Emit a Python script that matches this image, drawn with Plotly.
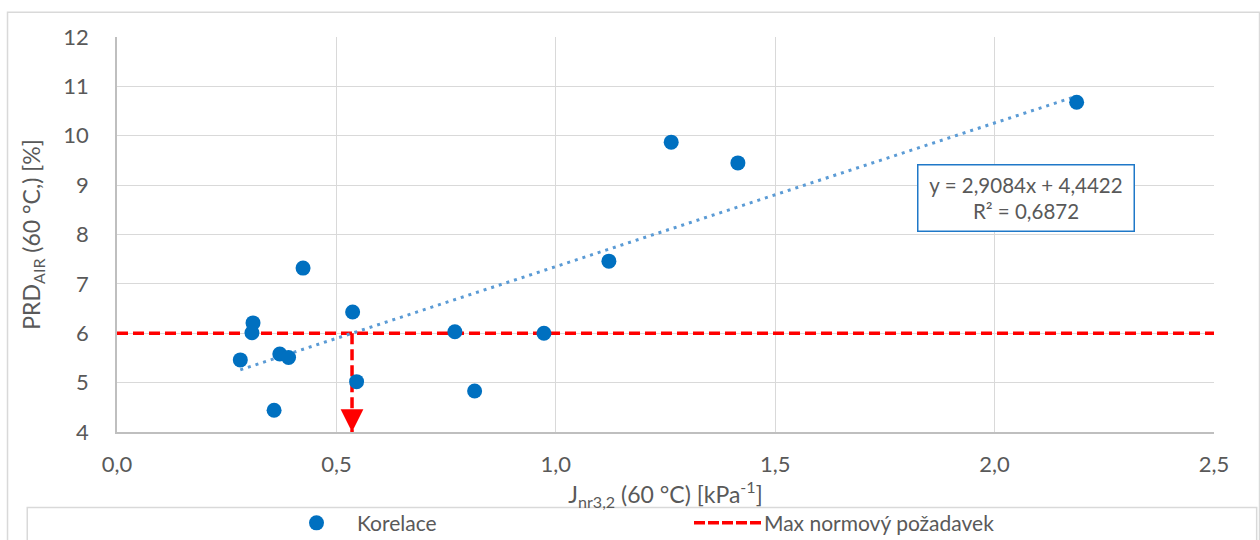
import plotly.graph_objects as go

# ---- data ----
j_nr = [0.281, 0.310, 0.3075, 0.371, 0.391, 0.358, 0.424, 0.537, 0.546,
        0.770, 0.815, 0.973, 1.121, 1.263, 1.415, 2.187]
prd_air = [5.46, 6.21, 6.01, 5.58, 5.51, 4.44, 7.32, 6.43, 5.02,
           6.03, 4.83, 6.00, 7.46, 9.87, 9.45, 10.68]

trend_slope = 2.9084
trend_intercept = 4.4422
trend_r2 = 0.6872

limit_x = [0.0, 2.5]
limit_y = [6.0, 6.0]

x_ticks = [0.0, 0.5, 1.0, 1.5, 2.0, 2.5]
y_ticks = [4, 5, 6, 7, 8, 9, 10, 11, 12]

series_names = ["Korelace", "Max normový požadavek"]

# ---- derived ----
trend_x = [min(j_nr), max(j_nr)]
trend_y = [trend_slope * v + trend_intercept for v in trend_x]
x_cross = (limit_y[0] - trend_intercept) / trend_slope
drop_x = [x_cross, x_cross]
drop_y = [limit_y[0], y_ticks[0]]

FONT = "Lato, 'Open Sans', sans-serif"
TXT = "#595959"
BLUE = "#0070c0"
RED = "#ff0000"
FS = 21
TICK_FS = 22
TITLE_FS = 23

fig = go.Figure()

fig.add_trace(go.Scatter(x=limit_x, y=limit_y, mode="lines", name=series_names[1],
                         line=dict(color=RED, width=3.5, dash="11px,5px"),
                         showlegend=False, hoverinfo="skip"))
fig.add_trace(go.Scatter(x=drop_x, y=drop_y, mode="lines",
                         line=dict(color=RED, width=3.5, dash="11px,5px"),
                         showlegend=False, hoverinfo="skip"))
fig.add_trace(go.Scatter(x=trend_x, y=trend_y, mode="lines",
                         line=dict(color="#5b9bd5", width=3, dash="3px,5px"),
                         showlegend=False, hoverinfo="skip"))
fig.add_trace(go.Scatter(x=j_nr, y=prd_air, mode="markers", name=series_names[0],
                         marker=dict(color=BLUE, size=15, line=dict(width=0)),
                         showlegend=False))

# arrow head at bottom of drop line
fig.add_annotation(x=x_cross, y=y_ticks[0], ax=x_cross, ay=4.35,
                   xref="x", yref="y", axref="x", ayref="y",
                   text="", showarrow=True, arrowhead=2, arrowsize=1.3,
                   arrowwidth=3.5, arrowcolor=RED, standoff=0)

# trendline equation box
fig.add_annotation(x=2.072, y=8.73, xref="x", yref="y",
                   text=f"y = {trend_slope:.4f}x + {trend_intercept:.4f}".replace(".", ",")
                        + "<br>" + f"R² = {trend_r2:.4f}".replace(".", ","),
                   showarrow=False, align="center",
                   font=dict(family=FONT, size=20.5, color=TXT),
                   bordercolor="#1f78c8", borderwidth=1.5, borderpad=4,
                   bgcolor="white", width=207, height=57)

# outer chart border and legend box
fig.add_shape(type="rect", xref="paper", yref="paper",
              x0=-0.0998, x1=1.0415, y0=-0.29, y1=1.0625,
              line=dict(color="#d9d9d9", width=1.5), layer="below")
fig.add_shape(type="rect", xref="paper", yref="paper",
              x0=-0.0818, x1=1.0389, y0=-0.29, y1=-0.191,
              line=dict(color="#d9d9d9", width=1.5), layer="below")

# manual legend
leg_y = -0.230
fig.add_shape(type="circle", xref="paper", yref="paper",
              x0=(309 - 117) / 1097, x1=(324 - 117) / 1097,
              y0=leg_y - 7.5 / 395, y1=leg_y + 7.5 / 395,
              fillcolor=BLUE, line=dict(width=0))
fig.add_annotation(x=(355 - 117) / 1097, y=leg_y, xref="paper", yref="paper",
                   text=series_names[0], showarrow=False,
                   xanchor="left", yanchor="middle",
                   font=dict(family=FONT, size=FS, color=TXT))
fig.add_shape(type="line", xref="paper", yref="paper",
              x0=(694 - 117) / 1097, x1=(762 - 117) / 1097, y0=leg_y, y1=leg_y,
              line=dict(color=RED, width=3.5, dash="11px,3px"))
fig.add_annotation(x=(762 - 117) / 1097, y=leg_y, xref="paper", yref="paper",
                   text=series_names[1], showarrow=False,
                   xanchor="left", yanchor="middle",
                   font=dict(family=FONT, size=FS, color=TXT))

fig.update_layout(
    width=1260, height=540,
    margin=dict(l=117, r=46, t=37, b=108),
    paper_bgcolor="white", plot_bgcolor="white",
    separators=", ",
    font=dict(family=FONT, size=FS, color=TXT),
    showlegend=False,
)
fig.update_xaxes(range=[0, 2.5], tickvals=x_ticks, tickformat=".1f",
                 showgrid=True, gridcolor="#d9d9d9", gridwidth=1.3,
                 showline=True, linecolor="#bfbfbf", linewidth=1.5,
                 zeroline=False, ticks="", ticklabelstandoff=12,
                 tickfont=dict(size=TICK_FS, color=TXT),
                 title=dict(text="J<sub>nr3,2</sub> (60 °C) [kPa<sup>-1</sup>]",
                            font=dict(size=TITLE_FS, color=TXT), standoff=0))
fig.update_yaxes(range=[4, 12], tickvals=y_ticks,
                 showgrid=True, gridcolor="#d9d9d9", gridwidth=1.3,
                 showline=True, linecolor="#bfbfbf", linewidth=1.5,
                 zeroline=False, ticks="", ticklabelstandoff=22,
                 tickfont=dict(size=TICK_FS, color=TXT),
                 title=dict(text="PRD<sub>AIR</sub> (60 °C,) [%]",
                            font=dict(size=TITLE_FS, color=TXT), standoff=16))

fig.write_html("out.html")
